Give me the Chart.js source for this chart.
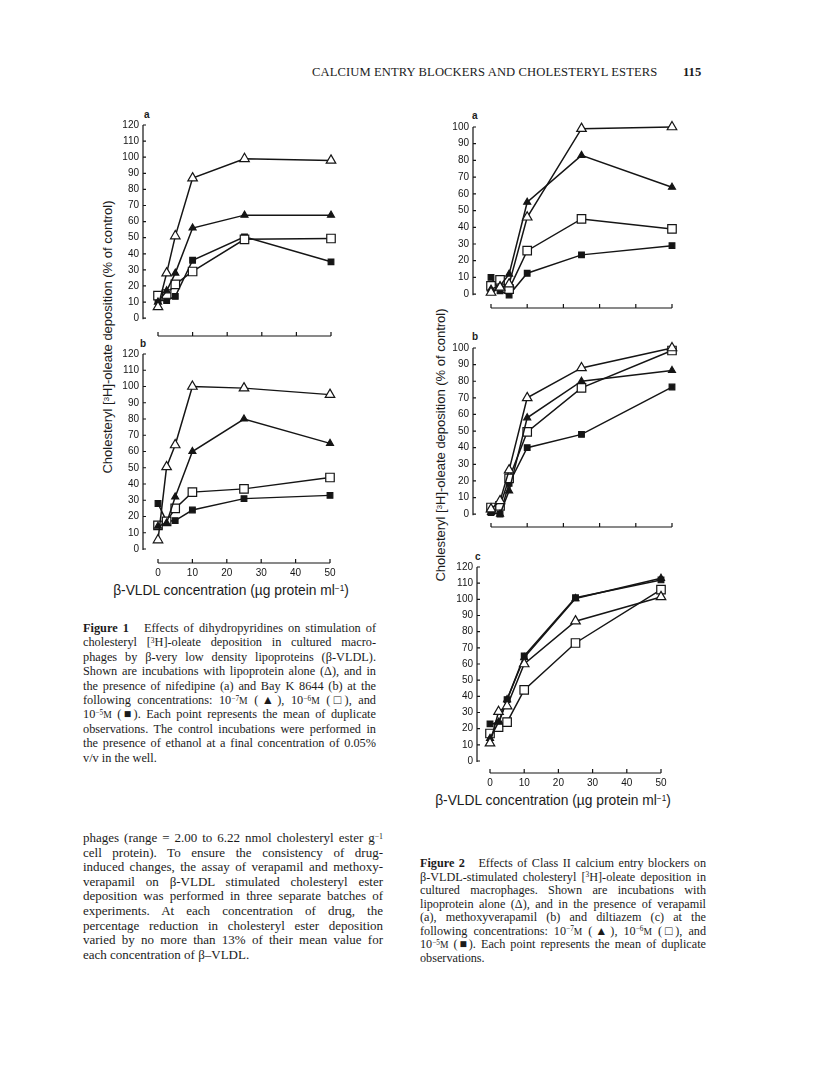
<!DOCTYPE html>
<html>
<head>
<meta charset="utf-8">
<script src="https://cdn.jsdelivr.net/npm/chart.js@4.4.0/dist/chart.umd.min.js"></script>
<style>
  body { margin: 0; width: 816px; height: 1073px; position: relative; overflow: hidden; background: #fff;
         font-family: "Liberation Serif", "Times New Roman", serif; color: #1b1b1b; }
  canvas { position: absolute; }
  .t { position: absolute; white-space: nowrap; }
  .sans { font-family: "Liberation Sans", Arial, sans-serif; }
  .ln { position: absolute; white-space: nowrap; text-align: justify; text-align-last: justify; }
  .ln.last { text-align-last: left; }
  .sc { font-size: 0.78em; }
  .up { position: relative; top: -0.45em; font-size: 0.6em; line-height: 0; }
  .rot { position: absolute; white-space: nowrap; transform: translate(-50%, -50%) rotate(-90deg); }
  .ctr { position: absolute; white-space: nowrap; transform: translate(-50%, -50%); }
</style>
</head>
<body>

<div class="t" style="left:312px;top:65px;font-size:12.6px;letter-spacing:0.1px">CALCIUM ENTRY BLOCKERS AND CHOLESTERYL ESTERS</div>
<div class="t" style="left:683px;top:65px;font-size:12.6px;font-weight:bold">115</div>

<div class="t sans" style="left:144px;top:109px;font-size:10px;font-weight:bold">a</div>
<div class="t sans" style="left:140px;top:338px;font-size:10px;font-weight:bold">b</div>
<div class="t sans" style="left:472px;top:110px;font-size:10px;font-weight:bold">a</div>
<div class="t sans" style="left:472px;top:331px;font-size:10px;font-weight:bold">b</div>
<div class="t sans" style="left:475px;top:551px;font-size:10px;font-weight:bold">c</div>

<div class="rot sans" style="left:107px;top:337px;font-size:13px">Cholesteryl [<span class="up">3</span>H]-oleate deposition (% of control)</div>
<div class="rot sans" style="left:440px;top:445px;font-size:13px">Cholesteryl [<span class="up">3</span>H]-oleate deposition (% of control)</div>
<div class="ctr sans" style="left:231px;top:590px;font-size:13.8px">β-VLDL concentration (µg protein ml<span class="up">−1</span>)</div>
<div class="ctr sans" style="left:553px;top:800px;font-size:13.8px">β-VLDL concentration (µg protein ml<span class="up">−1</span>)</div>

<canvas id="c1a"></canvas>
<canvas id="c1b"></canvas>
<canvas id="c2a"></canvas>
<canvas id="c2b"></canvas>
<canvas id="c2c"></canvas>

<div id="txt"></div>

<script>
// beta-VLDL concentrations (ug protein/ml)
const concs = [0, 2.5, 5, 10, 25, 50];
const xTicks = [0, 10, 20, 30, 40, 50];
const yTicks120 = [0, 10, 20, 30, 40, 50, 60, 70, 80, 90, 100, 110, 120];
const yTicks100 = [0, 10, 20, 30, 40, 50, 60, 70, 80, 90, 100];

// Figure 1a - nifedipine
const alone1a = [7, 28, 51, 87, 99, 98];
const e7_1a = [10, 17, 28, 56, 64, 64];
const e6_1a = [14, 15, 21, 29, 49, 49.5];
const e5_1a = [11, 11, 13.5, 36, 50.5, 35];

// Figure 1b - Bay K 8644
const alone1b = [5.5, 50.5, 64, 100, 99, 95];
const e7_1b = [14, 16, 32, 60, 80, 65];
const e6_1b = [14.5, 17, 25, 35, 37, 44];
const e5_1b = [28, 17, 17.5, 24, 31, 33];

// Figure 2a - verapamil
const alone2a = [1, 4, 6, 46, 99, 100];
const e7_2a = [3, 5, 12, 55, 83, 64];
const e6_2a = [5, 8.5, 3, 26, 45, 39];
const e5_2a = [10, 2, -0.5, 12.5, 23.5, 29];

// Figure 2b - methoxyverapamil
const alone2b = [3, 8, 26.5, 70, 88, 100];
const e7_2b = [1, 0, 14, 58, 80, 86.5];
const e6_2b = [4, 5, 21.5, 49.5, 76, 98.5];
const e5_2b = [1, 0, 18.5, 40, 48, 76.5];

// Figure 2c - diltiazem
const alone2c = [11, 30.5, 34, 60, 86.5, 101.5];
const e7_2c = [14, 24, 38, 64, 100.5, 113];
const e6_2c = [17, 21, 24, 44, 73, 106];
const e5_2c = [23, 23, 38, 65, 101, 112];

const INK = "#151515";
const tickFont = { family: "'Liberation Sans', Arial, sans-serif", size: 10 };

// axis lines drawn off the plot like in the print: y from 0 up, x below, ticks inward
const axesPlugin = {
  id: "axes",
  afterDraw(chart) {
    const { ctx, chartArea } = chart;
    const xs = chart.scales.x, ys = chart.scales.y;
    ctx.save();
    ctx.strokeStyle = INK;
    ctx.lineWidth = 1.2;
    ctx.beginPath();
    const yb = ys.getPixelForValue(0), yt = ys.getPixelForValue(ys.max);
    ctx.moveTo(chartArea.left, yb + 1);
    ctx.lineTo(chartArea.left, yt);
    ys.ticks.forEach(t => {
      const p = ys.getPixelForValue(t.value);
      ctx.moveTo(chartArea.left, p);
      ctx.lineTo(chartArea.left + 3, p);
    });
    const xl = xs.getPixelForValue(0), xr = xs.getPixelForValue(50);
    ctx.moveTo(xl, chartArea.bottom);
    ctx.lineTo(xr, chartArea.bottom);
    xs.ticks.forEach(t => {
      const p = xs.getPixelForValue(t.value);
      ctx.moveTo(p, chartArea.bottom);
      ctx.lineTo(p, chartArea.bottom - 4);
    });
    ctx.stroke();
    ctx.restore();
  }
};

function series(vals, style) {
  const base = {
    data: concs.map((c, i) => ({ x: c, y: vals[i] })),
    borderColor: INK,
    borderWidth: 1.5,
    pointBorderColor: INK,
    pointBorderWidth: 1.2,
    tension: 0,
    clip: false
  };
  if (style === "alone") Object.assign(base, { pointStyle: "triangle", pointRadius: 5.5, pointBackgroundColor: "#fff" });
  if (style === "e7") Object.assign(base, { pointStyle: "triangle", pointRadius: 4, pointBackgroundColor: INK });
  if (style === "e6") Object.assign(base, { pointStyle: "rect", pointRadius: 6, pointBackgroundColor: "#fff" });
  if (style === "e5") Object.assign(base, { pointStyle: "rect", pointRadius: 4, pointBackgroundColor: INK });
  return base;
}

function panel(id, g, sets, yTicks, showX) {
  const pxX = (g.x50 - g.x0) / 50;
  const pxY = (g.y0 - g.yTop) / g.yMax;
  const xmin = -(g.x0 - g.axis) / pxX;
  const ymin = -(g.xAxis - g.y0) / pxY;
  const xH = showX ? 22 : 8;
  const cv = document.getElementById(id);
  cv.width = (g.x50 - g.axis) + 40 + 12;
  cv.height = (g.xAxis - g.yTop) + 12 + xH;
  cv.style.left = (g.axis - 40) + "px";
  cv.style.top = (g.yTop - 12) + "px";
  new Chart(cv, {
    type: "line",
    data: {
      datasets: [
        series(sets[0], "alone"),
        series(sets[1], "e7"),
        series(sets[2], "e6"),
        series(sets[3], "e5")
      ]
    },
    options: {
      responsive: false,
      animation: false,
      layout: { padding: { left: 0, top: 12, right: 12, bottom: 0 } },
      plugins: { legend: { display: false }, tooltip: { enabled: false } },
      scales: {
        x: {
          type: "linear", min: xmin, max: 50,
          afterBuildTicks: s => { s.ticks = xTicks.map(v => ({ value: v })); },
          afterFit: s => { s.height = xH; },
          grid: { display: false, drawTicks: false }, border: { display: false },
          ticks: { display: showX, color: INK, font: tickFont, padding: 4, maxRotation: 0 }
        },
        y: {
          type: "linear", min: ymin, max: g.yMax,
          afterBuildTicks: s => { s.ticks = yTicks.map(v => ({ value: v })); },
          afterFit: s => { s.width = 40; },
          grid: { display: false, drawTicks: false }, border: { display: false },
          ticks: { color: INK, font: tickFont, padding: 4 }
        }
      }
    },
    plugins: [axesPlugin]
  });
}

panel("c1a", { axis: 143, x0: 158, x50: 331, y0: 320, yTop: 125, yMax: 120, xAxis: 338 },
  [alone1a, e7_1a, e6_1a, e5_1a], yTicks120, false);
panel("c1b", { axis: 143, x0: 158, x50: 330, y0: 549, yTop: 354, yMax: 120, xAxis: 563 },
  [alone1b, e7_1b, e6_1b, e5_1b], yTicks120, true);
panel("c2a", { axis: 473, x0: 491, x50: 672, y0: 296, yTop: 127, yMax: 100, xAxis: 310 },
  [alone2a, e7_2a, e6_2a, e5_2a], yTicks100, false);
panel("c2b", { axis: 473, x0: 491, x50: 672, y0: 516, yTop: 348, yMax: 100, xAxis: 529 },
  [alone2b, e7_2b, e6_2b, e5_2b], yTicks100, false);
panel("c2c", { axis: 477, x0: 490, x50: 661, y0: 761, yTop: 567, yMax: 120, xAxis: 773 },
  [alone2c, e7_2c, e6_2c, e5_2c], yTicks120, true);

// page text, one justified line each
const M = '<span class="sc">M</span>';
const up = s => '<span class="up">' + s + '</span>';
const cap1 = [
  '<b>Figure 1</b>&nbsp;&nbsp; Effects of dihydropyridines on stimulation of',
  'cholesteryl [' + up('3') + 'H]-oleate deposition in cultured macro-',
  'phages by β-very low density lipoproteins (β-VLDL).',
  'Shown are incubations with lipoprotein alone (Δ), and in',
  'the presence of nifedipine (a) and Bay K 8644 (b) at the',
  'following concentrations: 10' + up('−7') + M + ' (▲), 10' + up('−6') + M + ' (□), and',
  '10' + up('−5') + M + ' (■). Each point represents the mean of duplicate',
  'observations. The control incubations were performed in',
  'the presence of ethanol at a final concentration of 0.05%',
  'v/v in the well.'
];
const body1 = [
  'phages (range = 2.00 to 6.22 nmol cholesteryl ester g' + up('−1'),
  'cell protein). To ensure the consistency of drug-',
  'induced changes, the assay of verapamil and methoxy-',
  'verapamil on β-VLDL stimulated cholesteryl ester',
  'deposition was performed in three separate batches of',
  'experiments. At each concentration of drug, the',
  'percentage reduction in cholesteryl ester deposition',
  'varied by no more than 13% of their mean value for',
  'each concentration of β–VLDL.'
];
const cap2 = [
  '<b>Figure 2</b>&nbsp;&nbsp; Effects of Class II calcium entry blockers on',
  'β-VLDL-stimulated cholesteryl [' + up('3') + 'H]-oleate deposition in',
  'cultured macrophages. Shown are incubations with',
  'lipoprotein alone (Δ), and in the presence of verapamil',
  '(a), methoxyverapamil (b) and diltiazem (c) at the',
  'following concentrations: 10' + up('−7') + M + ' (▲), 10' + up('−6') + M + ' (□), and',
  '10' + up('−5') + M + ' (■). Each point represents the mean of duplicate',
  'observations.'
];

function block(lines, left, firstY, width, size, step, lastIsShort) {
  const host = document.getElementById("txt");
  lines.forEach((html, i) => {
    const d = document.createElement("div");
    d.className = "ln" + (i === lines.length - 1 && lastIsShort ? " last" : "");
    d.style.left = left + "px";
    d.style.width = width + "px";
    d.style.fontSize = size + "px";
    d.style.lineHeight = "14px";
    d.style.top = (firstY + i * step - 7) + "px";
    d.innerHTML = html;
    host.appendChild(d);
  });
}
block(cap1, 83, 628, 293, 12.3, 14.4, true);
block(body1, 83, 838, 300, 13, 14.6, true);
block(cap2, 420, 863, 286, 12.2, 13.5, true);
</script>
</body>
</html>
